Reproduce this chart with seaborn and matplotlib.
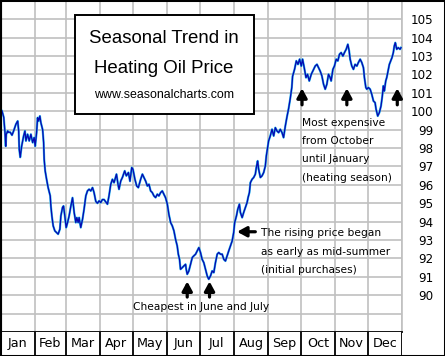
import matplotlib
matplotlib.use("Agg")
import matplotlib.pyplot as plt
from matplotlib.patches import Rectangle
import seaborn as sns
import pandas as pd

# ---- data (day of year, price index) ----
days = [0.9, 2.5, 3.6, 4.3, 4.8, 6.1, 6.6, 8.4, 10.0, 11.5, 13.6, 15.2, 16.1, 16.6, 17.5, 18.8,
        20.6, 21.8, 22.7, 24.2, 25.7, 27.2, 28.8, 30.2, 31.1, 32.4, 33.3, 34.2, 35.4, 36.3, 37.9,
        38.8, 39.3, 40.2, 41.5, 42.9, 44.8, 45.4, 46.3, 47.5, 49.0, 50.6, 52.0, 53.6, 54.5, 56.0,
        56.9, 58.1, 59.3, 60.6, 62.0, 63.6, 65.1, 66.6, 68.1, 69.0, 70.2, 71.1, 72.6, 74.2, 75.6,
        77.2, 78.7, 80.2, 81.7, 83.3, 84.7, 86.3, 87.8, 89.3, 90.8, 92.3, 93.8, 96.9, 98.3, 99.9,
        101.4, 102.9, 105.1, 106.5, 107.4, 109.0, 110.5, 112.6, 114.1, 116.0, 117.4, 119.0, 120.1,
        121.9, 123.5, 125.0, 127.1, 128.7, 130.1, 131.7, 133.2, 134.7, 136.2, 137.7, 139.2, 140.7,
        142.3, 143.7, 145.3, 146.8, 148.3, 149.8, 151.4, 152.8, 154.4, 155.9, 157.4, 158.9, 160.4,
        161.4, 162.5, 163.4, 165.0, 166.4, 168.0, 168.6, 169.5, 171.0, 172.5, 174.1, 175.5, 177.1,
        178.6, 180.1, 181.6, 183.1, 184.6, 186.1, 187.7, 189.1, 190.7, 192.2, 193.7, 195.2, 196.8,
        198.2, 199.8, 201.3, 202.8, 204.3, 205.8, 207.3, 208.8, 210.4, 211.8, 212.7, 214.3, 215.5,
        217.0, 217.9, 219.5, 220.9, 222.5, 224.0, 224.9, 226.1, 227.0, 228.5, 230.0, 231.5, 232.4,
        233.6, 234.5, 236.1, 237.6, 239.1, 240.6, 241.5, 242.7, 243.6, 245.1, 246.7, 248.2, 249.7,
        251.2, 252.7, 254.2, 255.8, 257.2, 258.8, 260.3, 261.8, 263.3, 264.7, 265.4, 267.2, 268.8,
        270.3, 271.8, 273.3, 274.5, 276.0, 277.6, 279.0, 280.6, 282.4, 284.5, 286.0, 287.6, 289.0,
        290.5, 292.1, 293.6, 295.1, 296.6, 298.1, 299.6, 300.5, 302.1, 303.5, 305.1, 306.6, 308.1,
        309.6, 311.2, 312.6, 314.2, 315.7, 316.9, 317.8, 319.3, 320.8, 322.3, 323.9, 325.3, 326.9,
        328.4, 329.9, 330.8, 332.1, 333.0, 334.4, 336.0, 337.5, 339.0, 340.5, 341.4, 342.9, 344.4,
        345.9, 347.1, 348.0, 348.9, 350.2, 351.1, 352.6, 353.5, 354.7, 355.9, 357.1, 358.0, 358.9,
        360.2, 361.6, 363.2, 364.1]

prices = [100.02, 99.67, 98.86, 98.1, 98.75, 98.93, 98.86, 98.86, 98.7, 98.93, 99.3, 99.47, 98.93,
          97.93, 97.5, 98.1, 98.66, 98.93, 98.39, 98.75, 98.39, 98.75, 98.3, 98.57, 98.1, 98.84,
          99.65, 99.47, 99.74, 99.38, 99.0, 98.3, 97.39, 96.76, 96.3, 95.85, 95.4, 94.85, 94.31,
          93.77, 93.5, 93.4, 93.32, 93.59, 94.31, 94.77, 94.85, 94.31, 93.68, 93.95, 94.31, 94.85,
          95.3, 94.5, 93.95, 94.22, 93.95, 94.22, 93.68, 94.13, 94.67, 95.4, 95.67, 95.76, 95.67,
          95.85, 95.58, 95.1, 95.0, 95.13, 95.04, 95.2, 95.2, 94.95, 95.4, 96.03, 96.3, 96.12,
          96.58, 96.03, 95.76, 96.21, 96.4, 96.76, 96.49, 96.67, 96.2, 96.94, 96.85, 96.3, 95.94,
          95.85, 96.3, 96.58, 96.4, 96.2, 95.94, 96.03, 95.67, 95.58, 95.4, 95.31, 95.49, 95.4,
          95.58, 95.67, 95.49, 95.3, 94.95, 94.4, 93.95, 93.77, 93.5, 93.04, 92.68, 92.23, 91.95,
          91.41, 91.5, 91.59, 91.68, 91.41, 91.14, 91.32, 91.68, 92.05, 92.14, 92.23, 92.41, 92.59,
          92.32, 91.95, 91.77, 91.41, 91.05, 90.87, 91.05, 91.32, 91.23, 91.77, 92.23, 92.32, 92.23,
          92.23, 91.95, 91.86, 92.14, 92.41, 92.68, 92.95, 93.41, 93.95, 94.31, 94.67, 94.95, 94.5,
          94.22, 94.5, 94.77, 95.04, 95.31, 95.58, 96.12, 96.3, 96.4, 96.58, 96.94, 97.3, 96.85,
          96.4, 96.49, 96.67, 97.03, 97.57, 98.03, 98.39, 98.66, 99.02, 98.66, 99.11, 98.93, 98.84,
          99.02, 98.84, 98.57, 99.2, 99.7, 100.15, 100.7, 101.3, 101.9, 102.28, 102.74, 102.55,
          102.83, 102.46, 102.83, 102.37, 101.83, 102.01, 101.65, 102.01, 102.28, 102.46, 102.55,
          102.37, 102.19, 101.92, 101.47, 101.2, 101.47, 102.01, 101.83, 101.65, 102.28, 102.46,
          102.83, 102.74, 103.1, 103.19, 103.0, 103.19, 103.37, 103.64, 103.28, 102.83, 102.46,
          102.28, 102.55, 102.46, 102.65, 102.83, 102.65, 102.37, 101.83, 101.29, 101.2, 101.29,
          101.2, 100.92, 100.56, 100.47, 100.11, 99.74, 99.93, 100.29, 100.83, 101.38, 101.1,
          101.65, 101.83, 102.28, 102.55, 102.74, 102.92, 103.19, 103.55, 103.73, 103.37, 103.46,
          103.37, 103.46]

month_labels = ["Jan", "Feb", "Mar", "Apr", "May", "Jun", "Jul", "Aug", "Sep", "Oct", "Nov", "Dec"]
month_starts = [0, 31, 59, 90, 120, 151, 181, 212, 243, 273, 304, 334, 365]
ytick_values = list(range(90, 106))

df = pd.DataFrame({"day": days, "price": prices})

W, H = 445, 356
fig = plt.figure(figsize=(W / 100, H / 100), dpi=100)
ax = fig.add_axes([1 / W, 24 / H, 401 / W, 332 / H])
axm = fig.add_axes([1 / W, 1 / H, 401 / W, 23 / H])

grid_c = "#c0c0c0"
ax.set_xlim(0, 365)
ax.set_ylim(88, 106.05)
for d in month_starts:
    ax.axvline(d, color=grid_c, lw=1.2, zorder=0)
for v in range(89, 107):
    ax.axhline(v, color=grid_c, lw=1.2, zorder=0)

sns.lineplot(data=df, x="day", y="price", ax=ax, color="#2cc0f0", lw=1.6, zorder=3)
sns.lineplot(data=df, x="day", y="price", ax=ax, color="#0808b0", lw=0.95, zorder=4)

ax.set_xlabel("")
ax.set_ylabel("")
ax.set_xticks([])
ax.yaxis.tick_right()
ax.set_yticks(ytick_values)
ax.set_yticklabels([str(v) for v in ytick_values], fontsize=8.6, family="DejaVu Sans")
ax.tick_params(axis="y", length=0, pad=22.5)
for lbl in ax.get_yticklabels():
    lbl.set_horizontalalignment("right")
ax.spines["top"].set_visible(False)
ax.spines["left"].set_color("black")
ax.spines["left"].set_linewidth(1.5)
ax.spines["right"].set_color(grid_c)
ax.spines["right"].set_linewidth(1.2)
ax.spines["bottom"].set_color("black")
ax.spines["bottom"].set_linewidth(1.3)

# title box
ax.add_patch(Rectangle((67.2, 99.84), 163.4, 5.38, facecolor="white", edgecolor="black",
                       lw=1.4, zorder=6))
ax.text(148.5, 103.70, "Seasonal Trend in", ha="center", va="baseline", fontsize=13.4,
        family="Liberation Sans", zorder=7)
ax.text(148.5, 102.07, "Heating Oil Price", ha="center", va="baseline", fontsize=13.4,
        family="Liberation Sans", zorder=7)
ax.text(148.5, 100.73, "www.seasonalcharts.com", ha="center", va="baseline", fontsize=8.9,
        family="Liberation Sans", zorder=7)

# annotations
arrow_kw = dict(arrowstyle="-|>,head_width=0.3,head_length=0.55", lw=2.3, color="black",
                shrinkA=0, shrinkB=0)
for xd in [274.0, 314.8, 360.7]:
    ax.annotate("", xy=(xd, 101.25), xytext=(xd, 100.35), arrowprops=arrow_kw, zorder=5)
for xd in [169.5, 189.8]:
    ax.annotate("", xy=(xd, 90.75), xytext=(xd, 89.9), arrowprops=arrow_kw, zorder=5)
ax.annotate("", xy=(214.9, 93.45), xytext=(231.5, 93.45), arrowprops=arrow_kw, zorder=5)

fs = 7.7
for i, t in enumerate(["Most expensive", "from October", "until January", "(heating season)"]):
    ax.text(274.3, 99.38 - i * 1.0, t, ha="left", va="center", fontsize=fs, zorder=5)
for i, t in enumerate(["The rising price began", "as early as mid-summer", "(initial purchases)"]):
    ax.text(236.7, 93.39 - i * 1.02, t, ha="left", va="center", fontsize=fs, zorder=5)
ax.text(120.5, 89.36, "Cheapest in June and July", ha="left", va="center", fontsize=fs, zorder=5)

# month label row
axm.set_xlim(0, 365)
axm.set_ylim(0, 1)
axm.set_xticks([])
axm.set_yticks([])
for s in ["top", "right", "bottom", "left"]:
    axm.spines[s].set_visible(False)
for d in month_starts:
    axm.axvline(d, color="black", lw=1.3)
for i, m in enumerate(month_labels):
    mid = (month_starts[i] + month_starts[i + 1]) / 2
    axm.text(mid, 0.5, m, ha="center", va="center", fontsize=9.2)

fig.patches.append(Rectangle((0, 0), 1, 1, transform=fig.transFigure, fill=False,
                             edgecolor="black", lw=2.2))

fig.savefig("out.png", dpi=100)
